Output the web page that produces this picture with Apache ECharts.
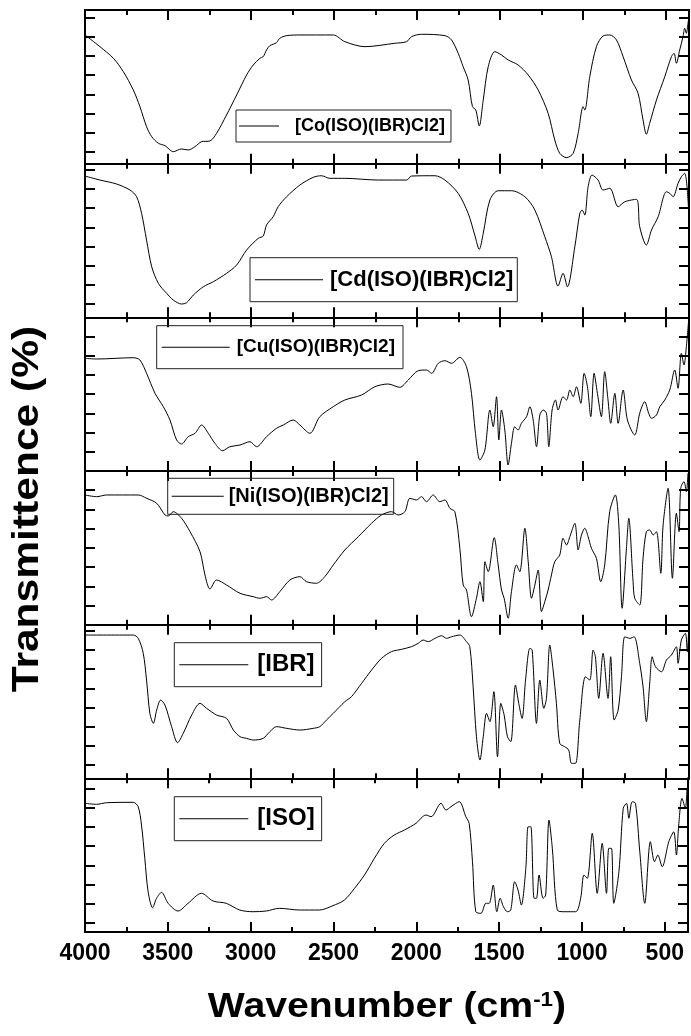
<!DOCTYPE html>
<html lang="en">
<head>
<meta charset="UTF-8">
<title>FTIR spectra</title>
<script src="https://cdn.jsdelivr.net/npm/echarts@6/dist/echarts.min.js"></script>
<style>
html,body{margin:0;padding:0;background:#fff;}
#chart{width:691px;height:1036px;}
</style>
</head>
<body>
<div id="chart"></div>
<script>
// spectra: [wavenumber (cm-1), transmittance (a.u.)]
var names = ['[Co(ISO)(IBR)Cl2]', '[Cd(ISO)(IBR)Cl2]', '[Cu(ISO)(IBR)Cl2]', '[Ni(ISO)(IBR)Cl2]', '[IBR]', '[ISO]'];

var coData = [[4000,128.7],[3910,117],[3829,105.4],[3769,92],[3709,73.7],[3669,57],[3629,37],[3598,27],[3558,20.4],[3518,18],[3468,12],[3418,14.7],[3378,13.7],[3337,17],[3297,22],[3247,22.7],[3207,30.4],[3147,48.7],[3086,68.7],[3026,88.7],[2986,98.7],[2946,105.4],[2926,107],[2906,113.7],[2886,118],[2846,121],[2826,125.4],[2785,128],[2705,128.7],[2504,128.7],[2434,122],[2313,117],[2133,120.4],[2062,122],[2032,127],[1972,129.4],[1831,128],[1791,123.7],[1751,110.4],[1721,97],[1691,83.7],[1665,57],[1645,53.7],[1624,37.7],[1600,63.7],[1570,97],[1530,112],[1490,108.7],[1450,103.7],[1390,98.7],[1329,88.7],[1269,73.7],[1209,50.4],[1169,23.7],[1139,10.4],[1098,6],[1058,10.4],[1028,30.4],[998,57],[988,53.7],[958,87],[918,117],[878,127.7],[837,128.7],[797,123.7],[757,107],[707,83.7],[667,70.4],[637,43.7],[617,29.4],[597,40.4],[556,63.7],[506,87],[466,107],[450,110.4],[436,100.4],[416,113.7],[396,127],[386,135.4],[376,130.4],[366,140.4],[361,146]];

var cdData = [[4000,141.3],[3910,137.3],[3809,133.3],[3729,127.3],[3689,120.6],[3659,104],[3629,77.3],[3598,50.6],[3558,34],[3508,24],[3468,17.3],[3418,13.3],[3388,14.6],[3347,22.3],[3287,30.6],[3227,35.6],[3147,44],[3086,52.3],[3026,67.3],[2956,79],[2926,81.3],[2906,92.3],[2866,100.6],[2836,110.6],[2785,120.6],[2705,132.3],[2625,140],[2575,141.6],[2525,139],[2434,139],[2233,137.3],[2062,137.3],[2032,141.3],[1891,141.6],[1831,137.3],[1751,124],[1691,104],[1651,82.3],[1624,68],[1600,84],[1560,117.3],[1510,126.6],[1430,126.6],[1349,120.6],[1289,107.3],[1229,80.6],[1189,60.6],[1149,31.3],[1119,44],[1093,30.6],[1048,70.6],[1018,104],[1004,107.3],[988,102.3],[968,130.6],[944,142.3],[908,137.3],[878,127.3],[837,129],[787,110.6],[747,115.6],[677,118],[657,90.6],[617,72.3],[586,87.3],[546,100.6],[496,125.6],[476,124],[456,120.6],[426,134],[406,140.6],[386,144],[366,117.3],[360,90.6]];

var cuData = [[4000,112.7],[3930,112],[3709,113.3],[3669,111],[3629,97.7],[3578,77.7],[3528,64.3],[3488,51],[3448,31],[3418,27],[3378,34.3],[3337,37.7],[3297,46],[3257,37.7],[3217,27.7],[3171,20.3],[3127,24.3],[3066,26],[3006,29.3],[2966,24.3],[2906,34.3],[2846,42.7],[2805,46],[2745,51],[2705,46],[2645,37.7],[2585,54.3],[2504,64.3],[2434,71],[2333,76],[2253,84.3],[2173,87],[2103,83.7],[2052,91],[1992,100.3],[1942,101],[1911,97.7],[1871,107.7],[1831,110.3],[1791,107.7],[1741,113.7],[1701,104.3],[1671,77.7],[1647,37.7],[1620,11],[1590,21],[1560,61],[1540,44.3],[1520,74.3],[1506,31],[1490,61],[1470,41],[1450,6],[1430,27.7],[1410,44.3],[1390,41],[1370,47.7],[1339,54.3],[1319,64.3],[1299,51],[1279,24.3],[1259,56],[1239,61],[1219,57.7],[1205,24.3],[1185,61],[1165,71],[1149,61],[1119,74.3],[1098,71],[1078,81],[1058,74.3],[1038,84.3],[1012,67.7],[992,97.7],[972,84.3],[952,54.3],[932,97.7],[912,77.7],[888,54.3],[868,99.3],[848,71],[832,47.7],[807,77.7],[787,47.7],[757,81],[731,51],[687,36],[657,57.7],[627,69.3],[603,57.7],[586,52.7],[556,56],[536,64.3],[506,71],[476,81],[446,101],[426,82.7],[406,117.7],[390,106],[376,124.3],[362,151]];

var niData = [[4000,129.7],[3930,128],[3870,129.7],[3679,129.7],[3629,126.4],[3568,121.4],[3518,109.7],[3498,108.7],[3468,113],[3418,106.4],[3367,93],[3307,73],[3277,49.7],[3247,35.7],[3207,44.7],[3147,39.7],[3066,31.4],[2986,28],[2946,26.4],[2906,28],[2876,24.7],[2826,33],[2765,44.7],[2705,48],[2665,43],[2605,41.4],[2555,48],[2504,59.7],[2434,74.7],[2353,88],[2273,101.4],[2213,109.7],[2153,113],[2112,109.7],[2072,113],[2042,126.4],[2002,124.7],[1972,128],[1942,123],[1902,129.7],[1862,123],[1831,124.7],[1801,116.4],[1771,113],[1741,76.4],[1721,39.7],[1701,34.7],[1671,8],[1641,26.4],[1620,43],[1600,23],[1590,63],[1570,53],[1534,87],[1510,59.7],[1490,34.7],[1474,26.4],[1450,6.4],[1430,33],[1400,59.7],[1380,53],[1349,96.4],[1329,63],[1309,26.4],[1289,39.7],[1269,54.7],[1249,13],[1229,23],[1209,34.7],[1189,49.7],[1169,63],[1139,69.7],[1119,86.4],[1098,79.7],[1078,88],[1048,101.4],[1028,74.7],[1008,89.7],[988,96.4],[968,88],[948,76.4],[918,66.4],[892,43],[868,59.7],[838,113],[804,129.7],[783,99.7],[763,16.4],[737,76.4],[723,106.4],[697,43],[687,26.4],[657,19.7],[637,66.4],[617,93],[597,94.7],[576,89.7],[556,93],[530,51.4],[516,99.7],[486,136.4],[460,46.4],[436,111.4],[420,93],[410,136.4],[390,143],[376,133],[366,151.4]];

var ibrData = [[4000,143.3],[3709,143.3],[3679,140],[3649,125],[3629,98.3],[3609,65],[3588,55],[3568,68.3],[3544,78.3],[3518,73.3],[3478,51.7],[3442,35.7],[3408,45],[3357,63.3],[3307,75],[3267,70],[3207,63.3],[3147,60],[3106,48.3],[3066,41.7],[3026,40],[2986,38.3],[2926,40],[2886,46.7],[2846,51.7],[2785,50],[2705,48.3],[2625,50],[2585,51.7],[2545,58.3],[2504,65],[2434,76.7],[2394,81.7],[2333,95],[2273,108.3],[2213,120],[2153,126.7],[2093,129],[2032,131.7],[1992,135],[1962,138.3],[1931,136.7],[1891,140],[1851,142.6],[1821,140],[1791,141.6],[1741,143.3],[1701,136.7],[1681,131.7],[1661,91.6],[1641,41.6],[1620,18.3],[1600,41.6],[1580,65],[1560,56.7],[1536,86.7],[1514,21.6],[1494,75],[1474,63.3],[1454,41.6],[1434,36.7],[1406,93.3],[1386,75],[1366,60],[1345,98.3],[1319,130],[1305,128.3],[1279,55],[1259,98.3],[1235,70],[1219,80],[1199,133.3],[1179,108.3],[1159,75],[1139,35],[1109,31.6],[1085,28.3],[1068,15],[1044,15],[1018,58.3],[984,101.6],[958,98.3],[938,128.3],[924,121.6],[904,80],[878,125],[848,80],[832,121.6],[811,58.3],[787,68.3],[767,101.6],[747,141.6],[717,140],[691,141.6],[657,115],[637,91.6],[617,56.7],[596,96.7],[582,121.6],[562,111.6],[526,106.6],[496,118.3],[466,123.3],[436,131.6],[426,115],[406,138.3],[382,145],[370,126.6],[362,148.3]];

var isoData = [[4000,128.7],[3930,127.7],[3870,129.3],[3709,129.7],[3679,125.3],[3659,107],[3639,73.7],[3619,40.3],[3592,24.3],[3568,33.7],[3538,39.7],[3498,28.7],[3438,21],[3378,28.7],[3297,38.7],[3227,31],[3147,28.7],[3066,22],[2986,20.3],[2906,21],[2826,23.7],[2705,22],[2585,22],[2504,26.3],[2434,32],[2373,43.7],[2313,57],[2253,73.7],[2193,88.7],[2133,97],[2072,102],[2002,108.7],[1962,115.3],[1942,117],[1911,115.3],[1851,128.7],[1821,122],[1791,125.3],[1741,130.3],[1701,115.3],[1681,108.7],[1661,70.3],[1641,20.3],[1610,18.7],[1580,28.7],[1560,28.7],[1536,47],[1514,20.3],[1494,33.7],[1474,25.3],[1450,20.3],[1430,22],[1406,50.3],[1386,42],[1366,27],[1339,63.7],[1325,105.3],[1309,105.3],[1289,33.7],[1275,33.7],[1259,57],[1235,33.7],[1219,37],[1199,112],[1179,83.7],[1149,22],[1109,20.3],[1038,20.3],[1008,33.7],[988,57],[968,53.7],[938,98.7],[908,38.7],[878,88.7],[852,38.7],[838,83.7],[822,83.7],[808,28.7],[777,60.3],[751,123.7],[731,128.7],[717,113.7],[697,130.3],[677,128.7],[651,80.3],[621,28.7],[587,90.3],[562,70.3],[542,77],[516,65.3],[476,90.3],[446,100.3],[430,77],[416,107],[396,133.7],[376,123.7],[366,144]];

var spectra = [coData, cdData, cuData, niData, ibrData, isoData];

var chart = echarts.init(document.getElementById('chart'));
var font = '"Liberation Sans", Arial, sans-serif';

// panel layout
var gTop = 10, gH = 153.67, gLeft = 85, gRight = 2;
// where the first y tick sits above each panel bottom (in tick units)
var tickShift = [0.61, 0.69, 0, 0, 0.69, 0.47];
// legend boxes: left, top, font size, padding, gap between line and text, line length
var legendPos = [
	{left: 236, top: 110, fs: 18, pad: [5, 6, 5, 3], gap: 11, iw: 40},
	{left: 250, top: 257.7, fs: 22, pad: [9, 4, 9, 5], gap: 2, iw: 68},
	{left: 156.7, top: 325.7, fs: 19, pad: [10, 8, 10, 5], gap: 2, iw: 68},
	{left: 167.7, top: 478.3, fs: 20, pad: [6, 5, 6, 4], gap: 0, iw: 52},
	{left: 174.3, top: 642.7, fs: 24, pad: [8, 7, 8, 5], gap: 4, iw: 69},
	{left: 174.3, top: 796.7, fs: 24, pad: [8, 7, 8, 5], gap: 4, iw: 69}
];

var black = '#000';
var grids = [], xAxes = [], yAxes = [], series = [], legends = [];

for (var i = 0; i < spectra.length; i++) {
	var last = i === spectra.length - 1;
	grids.push({left: gLeft, right: gRight, top: gTop + i * gH, height: gH});

	['bottom', 'top'].forEach(function (pos) {
		xAxes.push({
			type: 'value', gridIndex: i, position: pos,
			min: 360, max: 4000, inverse: true, splitNumber: 7,
			axisLine: {onZero: false, lineStyle: {color: black, width: 2}},
			axisTick: {inside: true, length: 10, lineStyle: {color: black, width: 2}},
			minorTick: {show: true, splitNumber: 2, length: 5, lineStyle: {color: black, width: 2}},
			splitLine: {show: false},
			axisLabel: {
				show: last && pos === 'bottom', margin: 10,
				color: black, fontSize: 23, fontWeight: 'bold', fontFamily: font,
				formatter: function (v) { return v % 500 === 0 ? String(v) : ''; }
			}
		});
	});

	// data axis (hidden) + two tick-only axes for the frame
	yAxes.push({type: 'value', gridIndex: i, min: 0, max: gH, show: false});
	['left', 'right'].forEach(function (pos) {
		yAxes.push({
			type: 'value', gridIndex: i, position: pos,
			min: -tickShift[i], max: -tickShift[i] + 8, splitNumber: 8,
			axisLine: {onZero: false, lineStyle: {color: black, width: 2}},
			axisTick: {inside: true, length: 10, lineStyle: {color: black, width: 2}},
			axisLabel: {show: false},
			splitLine: {show: false}
		});
	});

	series.push({
		name: names[i], type: 'line',
		xAxisIndex: 2 * i, yAxisIndex: 3 * i,
		data: spectra[i],
		symbol: 'none', smooth: 0.3, color: black,
		lineStyle: {color: black, width: 1},
		silent: true, animation: false
	});

	var lp = legendPos[i];
	legends.push({
		data: [names[i]], left: lp.left, top: lp.top,
		orient: 'horizontal', padding: lp.pad,
		borderColor: '#222', borderWidth: 1, borderRadius: 0,
		icon: 'rect', itemWidth: lp.iw, itemHeight: 1,
		selectedMode: false,
		textStyle: {
			color: black, fontSize: lp.fs, fontWeight: 'bold', fontFamily: font,
			lineHeight: lp.fs + 4, padding: [0, 0, 0, lp.gap]
		}
	});
}

var option = {
	animation: false,
	backgroundColor: '#fff',
	grid: grids,
	xAxis: xAxes,
	yAxis: yAxes,
	legend: legends,
	series: series,
	graphic: [
		{
			type: 'text', x: 387, y: 990, scaleX: 1.12,
			style: {
				text: '{a|Wavenumber (cm}{s|-1}{a|)}',
				align: 'center',
				rich: {
					a: {fontSize: 35, fontWeight: 'bold', fontFamily: font, fill: black},
					s: {fontSize: 20, fontWeight: 'bold', fontFamily: font, fill: black, verticalAlign: 'top', padding: [0, 0, 14, 0]}
				}
			}
		},
		{
			type: 'text', x: 9.5, y: 509, rotation: Math.PI / 2, scaleX: 1.15,
			style: {
				text: 'Transmittence (%)', fill: black,
				font: 'bold 37px ' + font,
				align: 'center', verticalAlign: 'top'
			}
		}
	]
};
chart.setOption(option);
</script>
</body>
</html>
